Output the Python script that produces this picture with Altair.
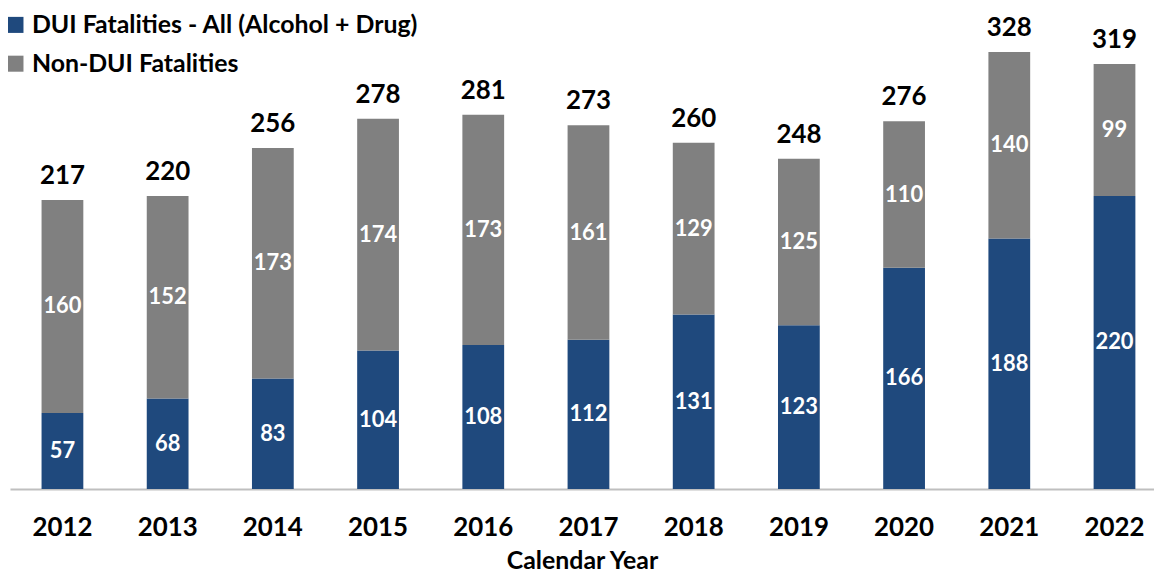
import altair as alt
import pandas as pd

years = ["2012", "2013", "2014", "2015", "2016", "2017", "2018", "2019", "2020", "2021", "2022"]
dui = [57, 68, 83, 104, 108, 112, 131, 123, 166, 188, 220]
non_dui = [160, 152, 173, 174, 173, 161, 129, 125, 110, 140, 99]
totals = [217, 220, 256, 278, 281, 273, 260, 248, 276, 328, 319]

S_DUI = "DUI Fatalities - All (Alcohol + Drug)"
S_NON = "Non-DUI Fatalities"

rows = []
for yr, d, n in zip(years, dui, non_dui):
    rows.append({"year": yr, "series": S_DUI, "value": d, "y0": 0, "y1": d, "mid": d / 2})
    rows.append({"year": yr, "series": S_NON, "value": n, "y0": d, "y1": d + n, "mid": d + n / 2})
seg = pd.DataFrame(rows)
tot = pd.DataFrame({"year": years, "total": totals})

FONT = "Lato"

x = alt.X("year:N", sort=years,
          scale=alt.Scale(paddingInner=0.603, paddingOuter=0.2385, align=0.629),
          axis=alt.Axis(title="Calendar Year", labelAngle=0, ticks=False,
                        domainColor="#BFBFBF", domainWidth=2,
                        labelFont=FONT, labelFontSize=26, labelFontWeight="bold", labelColor="#000000",
                        labelPadding=26,
                        titleFont=FONT, titleFontSize=25, titleFontWeight="bold", titleColor="#000000",
                        titlePadding=8))
yscale = alt.Scale(domain=[0, 360], nice=False, zero=True)

bars = alt.Chart(seg).mark_bar().encode(
    x=x,
    y=alt.Y("y0:Q", scale=yscale, axis=None),
    y2="y1:Q",
    color=alt.Color("series:N", sort=[S_DUI, S_NON],
                    scale=alt.Scale(domain=[S_DUI, S_NON], range=["#1F497D", "#808080"]),
                    legend=alt.Legend(title=None, orient="none", legendX=-7, legendY=3,
                                      symbolType="square", symbolSize=260, symbolStrokeWidth=0,
                                      labelFont=FONT, labelFontSize=25, labelFontWeight="bold",
                                      labelColor="#000000", labelOffset=4, rowPadding=13,
                                      labelLimit=600)),
)

seg_labels = alt.Chart(seg).mark_text(font=FONT, fontSize=22, fontWeight="bold", color="white",
                                      baseline="middle").encode(
    x=alt.X("year:N", sort=years),
    y=alt.Y("mid:Q", scale=yscale),
    text="value:Q",
)

tot_labels = alt.Chart(tot).mark_text(font=FONT, fontSize=26, fontWeight="bold", color="black",
                                      baseline="alphabetic", dy=-16).encode(
    x=alt.X("year:N", sort=years),
    y=alt.Y("total:Q", scale=yscale),
    text="total:Q",
)

chart = alt.layer(bars, seg_labels, tot_labels).properties(
    width=1150, height=482,
    autosize=alt.AutoSizeParams(type="none"),
    padding={"left": 2, "top": 0, "right": 0, "bottom": 85},
).configure_view(stroke=None).configure_axis(grid=False)

chart.save("out.html", embed_options={"renderer": "svg", "actions": False})
